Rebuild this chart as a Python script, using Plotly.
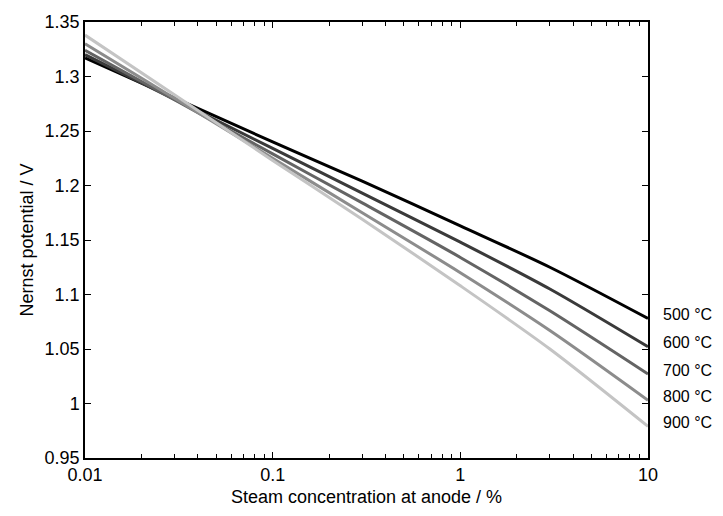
import plotly.graph_objects as go

steam_pct = [0.01, 0.1, 0.3, 1, 3, 10]
temps = ["500 °C", "600 °C", "700 °C", "800 °C", "900 °C"]
e_500 = [1.317, 1.240, 1.204, 1.163, 1.125, 1.078]
e_600 = [1.320, 1.234, 1.193, 1.148, 1.105, 1.052]
e_700 = [1.324, 1.229, 1.184, 1.134, 1.085, 1.027]
e_800 = [1.330, 1.225, 1.175, 1.120, 1.067, 1.003]
e_900 = [1.338, 1.223, 1.169, 1.108, 1.050, 0.979]
series = [e_500, e_600, e_700, e_800, e_900]
colors = ["#000000", "#3a3a3a", "#646464", "#8c8c8c", "#c4c4c4"]

FONT = "Liberation Sans, Arial, sans-serif"

fig = go.Figure()
for name, vals, col in zip(temps, series, colors):
    fig.add_trace(go.Scatter(x=steam_pct, y=vals, mode="lines", name=name,
                             line=dict(color=col, width=3, smoothing=0.8),
                             line_shape="spline", showlegend=False))
    fig.add_annotation(x=1, xref="paper", y=vals[-1], yref="y", text=name,
                       showarrow=False, xanchor="left", yanchor="middle",
                       xshift=13, yshift=4,
                       font=dict(family=FONT, size=16, color="#000000"))

fig.update_layout(
    width=723, height=516,
    margin=dict(l=85, r=75, t=16, b=53),
    paper_bgcolor="white", plot_bgcolor="white",
    font=dict(family=FONT, size=16, color="#000000"),
)
fig.update_xaxes(type="log", range=[-2, 1],
                 tickvals=[0.01, 0.1, 1, 10], ticktext=["0.01", "0.1", "1", "10"],
                 ticks="inside", ticklen=6, tickwidth=1, tickcolor="black",
                 minor=dict(ticks="inside", ticklen=4, tickcolor="black",
                            tickvals=[0.02, 0.03, 0.04, 0.05, 0.06, 0.07, 0.08, 0.09,
                                      0.2, 0.3, 0.4, 0.5, 0.6, 0.7, 0.8, 0.9,
                                      2, 3, 4, 5, 6, 7, 8, 9]),
                 showline=True, linecolor="black", linewidth=1.5, mirror="ticks",
                 showgrid=False, zeroline=False,
                 title=dict(text="Steam concentration at anode / %", standoff=6,
                            font=dict(size=18)),
                 tickfont=dict(size=18))
fig.update_yaxes(range=[0.95, 1.35],
                 tickvals=[0.95, 1.0, 1.05, 1.1, 1.15, 1.2, 1.25, 1.3, 1.35],
                 ticktext=["0.95", "1", "1.05", "1.1", "1.15", "1.2", "1.25", "1.3", "1.35"],
                 ticks="inside", ticklen=6, tickwidth=1, tickcolor="black",
                 showline=True, linecolor="black", linewidth=1.5, mirror="ticks",
                 showgrid=False, zeroline=False,
                 title=dict(text="Nernst potential / V", standoff=6, font=dict(size=18)),
                 tickfont=dict(size=18))

fig.write_html("out.html")
